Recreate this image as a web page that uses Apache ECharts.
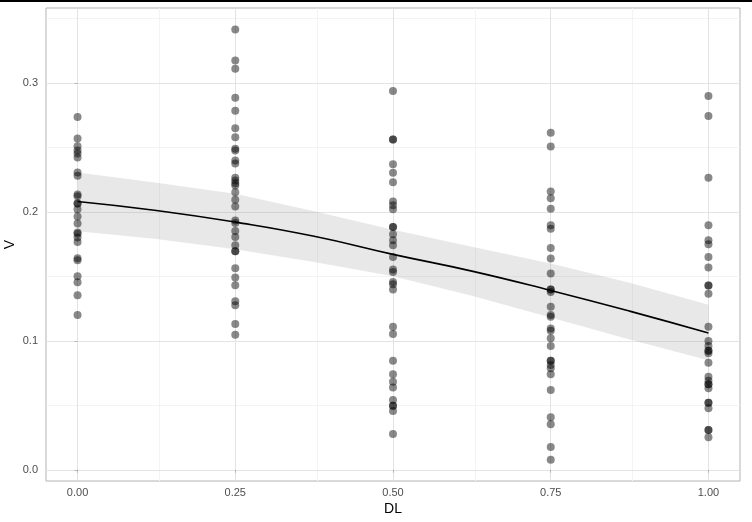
<!DOCTYPE html>
<html>
<head>
<meta charset="utf-8">
<script src="https://cdn.jsdelivr.net/npm/echarts@6/dist/echarts.min.js"></script>
<style>
  html, body { margin: 0; padding: 0; background: #fff; }
  #chart { width: 752px; height: 522px; }
</style>
</head>
<body>
<div id="chart"></div>
<script>
// --- data ---
var dlLevels = [0, 0.25, 0.5, 0.75, 1];
var vAt000 = [0.2735, 0.2568, 0.2508, 0.2475, 0.2452, 0.2421, 0.2305, 0.228, 0.2135, 0.212, 0.2065, 0.2065, 0.202,
  0.1964, 0.191, 0.184, 0.183, 0.180, 0.1766, 0.164, 0.1624, 0.150, 0.1454, 0.1353, 0.1199];
var vAt025 = [0.3413, 0.3173, 0.3109, 0.2885, 0.2784, 0.2647, 0.2578, 0.2488, 0.2475, 0.2397, 0.2374, 0.2264, 0.2243,
  0.2222, 0.2204, 0.2152, 0.2094, 0.2042, 0.1933, 0.1913, 0.1851, 0.1804, 0.174, 0.1694, 0.1694, 0.1562, 0.149,
  0.1431, 0.1307, 0.1276, 0.1131, 0.1046];
var vAt050 = [0.2937, 0.256, 0.256, 0.2369, 0.2302, 0.223, 0.208, 0.205, 0.2019, 0.1882, 0.1882, 0.1825, 0.1779,
  0.174, 0.165, 0.1552, 0.1534, 0.1456, 0.1439, 0.1398, 0.1108, 0.1052, 0.0845, 0.074, 0.0683, 0.0637, 0.0541,
  0.0497, 0.0497, 0.0456, 0.0278];
var vAt075 = [0.2612, 0.2506, 0.2158, 0.2106, 0.2024, 0.1895, 0.1869, 0.1719, 0.1637, 0.1521, 0.1398, 0.1398,
  0.1379, 0.1263, 0.1199, 0.1186, 0.1096, 0.1077, 0.1019, 0.0959, 0.0845, 0.0845, 0.0812, 0.0787, 0.074, 0.0619,
  0.0408, 0.0353, 0.0176, 0.0077];
var vAt100 = [0.2898, 0.2743, 0.2264, 0.1895, 0.1779, 0.1748, 0.165, 0.1568, 0.1428, 0.1428, 0.1364, 0.1108,
  0.0998, 0.0959, 0.0923, 0.0923, 0.0903, 0.083, 0.0722, 0.0691, 0.0663, 0.0663, 0.0632, 0.052, 0.052, 0.0477,
  0.0309, 0.0309, 0.0253];

var fitX = [0, 0.125, 0.25, 0.375, 0.5, 0.625, 0.75, 0.875, 1];
var fitV = [0.208, 0.201, 0.192, 0.181, 0.167, 0.154, 0.139, 0.123, 0.106];
var bandLow = [0.185, 0.179, 0.171, 0.161, 0.150, 0.135, 0.118, 0.101, 0.085];
var bandHigh = [0.2305, 0.2225, 0.214, 0.2005, 0.186, 0.173, 0.160, 0.145, 0.128];

var xTicks = [0, 0.25, 0.5, 0.75, 1];
var xTickLabels = ['0.00', '0.25', '0.50', '0.75', '1.00'];
var xMinor = [0.125, 0.375, 0.625, 0.875];
var yTicks = [0, 0.1, 0.2, 0.3];
var yTickLabels = ['0.0', '0.1', '0.2', '0.3'];
var yMinor = [0.05, 0.15, 0.25, 0.35];

// --- build series data ---
var columns = [vAt000, vAt025, vAt050, vAt075, vAt100];
var points = [];
columns.forEach(function(col, i) {
  col.forEach(function(v) { points.push([dlLevels[i], v]); });
});
var fitData = fitX.map(function(x, i) { return [x, fitV[i]]; });

function gridLines(key, values, color) {
  return values.map(function(v) {
    var d = {}; d[key] = v;
    d.lineStyle = { color: color, width: 1, type: 'solid' };
    return d;
  });
}

// confidence band as one polygon: upper edge left->right, lower edge right->left
function renderBand(params, api) {
  if (params.dataIndex !== 0) return;
  var pts = [];
  for (var i = 0; i < fitX.length; i++) pts.push(api.coord([fitX[i], bandHigh[i]]));
  for (var j = fitX.length - 1; j >= 0; j--) pts.push(api.coord([fitX[j], bandLow[j]]));
  return {
    type: 'polygon',
    shape: { points: pts },
    style: { fill: 'rgba(150,150,150,0.22)' }
  };
}

var textColor = '#4d4d4d';
var font = 'Liberation Sans, Arial, sans-serif';

var chart = echarts.init(document.getElementById('chart'), null, { renderer: 'canvas' });
chart.setOption({
  animation: false,
  backgroundColor: '#ffffff',
  grid: {
    left: 46, right: 12, top: 8, bottom: 41,
    containLabel: false, outerBoundsMode: 'none',
    show: true, borderColor: '#b3b3b3', borderWidth: 1, backgroundColor: 'transparent'
  },
  graphic: [{
    type: 'rect', left: 0, top: 0, z: 100,
    shape: { width: 752, height: 2 },
    style: { fill: '#000' }
  }],
  xAxis: {
    type: 'value',
    min: -0.05, max: 1.05,
    name: 'DL',
    nameLocation: 'middle',
    nameGap: 21,
    nameMoveOverlap: false,
    nameTextStyle: { color: '#000', fontSize: 14, fontFamily: font },
    axisLine: { show: false },
    axisTick: { show: true, customValues: xTicks, length: 3, lineStyle: { color: '#b3b3b3' } },
    axisLabel: {
      customValues: xTicks, color: textColor, fontSize: 11, fontFamily: font, margin: 6,
      formatter: function(v) { return xTickLabels[xTicks.indexOf(v)]; }
    },
    splitLine: { show: false }
  },
  yAxis: {
    type: 'value',
    min: -0.0087, max: 0.358,
    name: 'V',
    nameLocation: 'middle',
    nameGap: 29,
    nameMoveOverlap: false,
    nameTextStyle: { color: '#000', fontSize: 14, fontFamily: font },
    axisLine: { show: false },
    axisTick: { show: true, customValues: yTicks, length: 3, lineStyle: { color: '#b3b3b3' } },
    axisLabel: {
      customValues: yTicks, color: textColor, fontSize: 11, fontFamily: font, margin: 8,
      formatter: function(v) { return yTickLabels[yTicks.indexOf(v)]; }
    },
    splitLine: { show: false }
  },
  series: [
    {
      // panel grid lines, drawn through the axes' scales
      type: 'line', data: [], z: 0, silent: true,
      markLine: {
        z: 0, silent: true, symbol: ['none', 'none'], label: { show: false },
        animation: false,
        data: [].concat(
          gridLines('yAxis', yMinor, '#f3f3f3'),
          gridLines('xAxis', xMinor, '#f3f3f3'),
          gridLines('yAxis', yTicks, '#e3e3e3'),
          gridLines('xAxis', xTicks, '#e3e3e3')
        )
      }
    },
    {
      name: 'band', type: 'custom', data: [0], z: 1, silent: true,
      renderItem: renderBand
    },
    {
      name: 'V', type: 'scatter', data: points, z: 2,
      symbol: 'circle', symbolSize: 8,
      itemStyle: { color: 'rgba(0,0,0,0.58)' }
    },
    {
      name: 'fit', type: 'line', data: fitData, smooth: true, z: 3,
      symbol: 'none', lineStyle: { color: '#000', width: 1.6 }
    }
  ]
});
</script>
</body>
</html>
